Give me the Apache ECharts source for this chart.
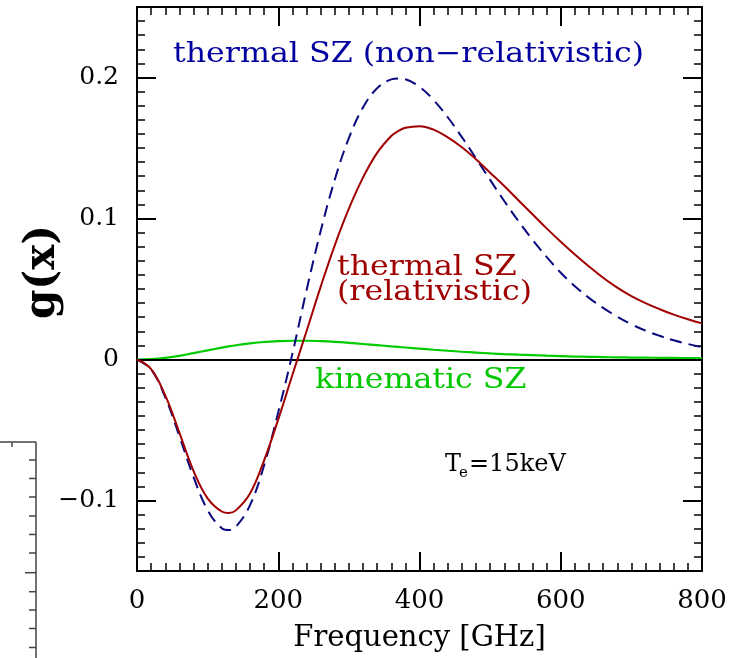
<!DOCTYPE html>
<html>
<head>
<meta charset="utf-8">
<script src="https://cdn.jsdelivr.net/npm/echarts@6/dist/echarts.min.js"></script>
<style>
html,body{margin:0;padding:0;background:#fff;}
#chart{width:741px;height:658px;}
</style>
</head>
<body>
<div id="chart"></div>
<script>
// Frequency grid (GHz)
const freq = [0,20,40,60,80,100,120,130,140,160,180,200,220,240,260,280,300,320,340,360,370,380,400,
  420,440,460,480,500,520,540,560,580,600,620,640,660,680,700,720,740,760,780,800];
// thermal SZ (non-relativistic), dashed navy
const tszNonRel = [0,-0.0071,-0.0268,-0.0544,-0.0833,-0.1068,-0.1197,-0.1210,-0.1187,-0.1033,-0.0750,-0.0374,
  0.0040,0.0490,0.0910,0.1275,0.1570,0.1787,0.1924,0.1987,0.1993,0.1988,0.1934,
  0.1840,0.1718,0.1577,0.1427,0.1274,0.1124,0.0982,0.0849,0.0728,0.0615,
  0.0520,0.0437,0.0366,0.0304,0.0250,0.0205,0.0168,0.0136,0.0110,0.0087];
// thermal SZ (relativistic, kTe = 15 keV), solid dark red
const tszRel = [0,-0.0068,-0.0255,-0.0518,-0.0790,-0.0985,-0.1078,-0.1088,-0.1070,-0.0950,-0.0715,-0.0425,
  -0.0110,0.0200,0.0515,0.0810,0.1070,0.1290,0.1465,0.1585,0.1620,0.1643,0.1655,
  0.1630,0.1575,0.1505,0.1420,0.1325,0.1230,0.1130,0.1030,0.0930,0.0835,
  0.0745,0.0660,0.0580,0.0510,0.0450,0.0400,0.0357,0.0318,0.0285,0.0256];
// kinematic SZ, solid green
const kinSZ = [0,0.0003,0.0012,0.0026,0.0045,0.0065,0.0084,0.0093,0.0101,0.0114,0.0124,0.0130,
  0.0133,0.0133,0.0130,0.0125,0.0118,0.0110,0.0102,0.0093,0.0089,0.0085,0.0077,
  0.0069,0.0062,0.0055,0.0049,0.0043,0.0038,0.0034,0.0031,0.0027,0.0024,
  0.0021,0.0019,0.0017,0.0015,0.0014,0.0013,0.0012,0.0011,0.0010,0.0009];
// axis ticks / labels
const xMin = 0, xMax = 800, xStep = 200;
const yMin = -0.15, yMax = 0.25;
const yMajor = [-0.1, 0, 0.1, 0.2];

const pair = (xs, ys) => xs.map((x, i) => [x, ys[i]]);
const FONT = '"DejaVu Serif", serif';

const chart = echarts.init(document.getElementById('chart'), null, {renderer: 'canvas'});

function xAxisDef(pos, labels) {
  return {
    type: 'value', position: pos, min: xMin, max: xMax, interval: xStep,
    axisLine: {show: true, onZero: false, lineStyle: {color: '#000', width: 2}},
    axisTick: {show: true, inside: true, length: 19, lineStyle: {color: '#000', width: 2}},
    minorTick: {show: true, splitNumber: 10, length: 8, lineStyle: {color: '#000', width: 1.5}},
    axisLabel: {show: labels, color: '#000', fontFamily: FONT, fontSize: 26, margin: 17},
    splitLine: {show: false}, minorSplitLine: {show: false},
    name: labels ? 'Frequency [GHz]' : '', nameLocation: 'middle', nameGap: 53,
    nameTextStyle: {color: '#000', fontFamily: FONT, fontSize: 29}
  };
}
function yMinorAxis(pos) {
  return {
    type: 'value', position: pos, min: yMin, max: yMax, interval: 0.01,
    axisLine: {show: true, onZero: false, lineStyle: {color: '#000', width: 2}},
    axisTick: {show: true, inside: true, length: 8, lineStyle: {color: '#000', width: 1.5}},
    axisLabel: {show: false}, splitLine: {show: false}
  };
}
function yMajorAxis(pos, labels) {
  return {
    type: 'value', position: pos, min: yMin, max: yMax,
    axisLine: {show: false, onZero: false},
    axisTick: {show: true, inside: true, length: 19, customValues: yMajor, lineStyle: {color: '#000', width: 2}},
    axisLabel: {show: labels, customValues: yMajor, color: '#000', fontFamily: FONT, fontSize: 25, margin: 18,
      formatter: v => Math.abs(v) < 1e-9 ? '0' : (v < 0 ? '\u2212' + Math.abs(v).toFixed(1) : v.toFixed(1))},
    splitLine: {show: false}
  };
}

const SX = 1.13;
function label(x, y, text, color, size) {
  return {type: 'text', x: x, y: y, scaleX: SX,
    style: {text: text, font: size + 'px ' + FONT, fill: color, align: 'left', verticalAlign: 'middle'}};
}

const option = {
  backgroundColor: '#fff',
  animation: false,
  grid: {left: 137, top: 7, right: 39, bottom: 86, containLabel: false},
  xAxis: [xAxisDef('bottom', true), xAxisDef('top', false)],
  yAxis: [yMinorAxis('left'), yMajorAxis('left', true), yMinorAxis('right'), yMajorAxis('right', false)],
  series: [
    {
      name: 'kinematic SZ', type: 'line', xAxisIndex: 0, yAxisIndex: 0,
      data: pair(freq, kinSZ), showSymbol: false, smooth: 0.4,
      lineStyle: {color: '#00cc00', width: 2.2}, z: 3,
      markLine: {
        silent: true, symbol: ['none', 'none'], label: {show: false},
        lineStyle: {color: '#000', width: 2, type: 'solid'},
        data: [{yAxis: 0}], z: 4
      }
    },
    {
      name: 'thermal SZ (non-relativistic)', type: 'line', xAxisIndex: 0, yAxisIndex: 0,
      data: pair(freq, tszNonRel), showSymbol: false, smooth: 0.4,
      lineStyle: {color: '#0a0a80', width: 2, type: [12, 7]}, z: 5
    },
    {
      name: 'thermal SZ (relativistic)', type: 'line', xAxisIndex: 0, yAxisIndex: 0,
      data: pair(freq, tszRel), showSymbol: false, smooth: 0.4,
      lineStyle: {color: '#a00000', width: 2}, z: 6
    }
  ],
  graphic: [
    {type: 'text', x: 43, y: 272, rotation: Math.PI / 2,
      style: {text: 'g(x)', font: 'bold 42px ' + FONT, fill: '#000', align: 'center', verticalAlign: 'middle'}},
    label(173, 55, 'thermal SZ (non\u2212relativistic)', '#0000a0', 28),
    label(337, 268, 'thermal SZ', '#a00000', 28),
    label(337, 293, '(relativistic)', '#a00000', 28),
    label(315, 381, 'kinematic SZ', '#00c800', 28),
    {type: 'text', x: 445, y: 465, style: {text: 'T', font: '24px ' + FONT, fill: '#000', align: 'left', verticalAlign: 'middle'}},
    {type: 'text', x: 459, y: 473, style: {text: 'e', font: '15px ' + FONT, fill: '#000', align: 'left', verticalAlign: 'middle'}},
    {type: 'text', x: 469, y: 465, style: {text: '=15keV', font: '24px ' + FONT, fill: '#000', align: 'left', verticalAlign: 'middle'}},
    // fragment of a neighbouring panel at the lower left
    {type: 'group', children: [
      {type: 'line', shape: {x1: 0, y1: 442, x2: 36, y2: 442}, style: {stroke: '#444', lineWidth: 1.5}},
      {type: 'line', shape: {x1: 36, y1: 442, x2: 36, y2: 658}, style: {stroke: '#444', lineWidth: 1.5}},
      {type: 'line', shape: {x1: 12, y1: 442, x2: 12, y2: 447}, style: {stroke: '#444', lineWidth: 1.5}}
    ].concat([460, 478.5, 497, 516, 534.5, 553, 591.7, 610, 628.5, 647.5].map(y => (
      {type: 'line', shape: {x1: 29, y1: y, x2: 36, y2: y}, style: {stroke: '#444', lineWidth: 1.5}}
    ))).concat([
      {type: 'line', shape: {x1: 25, y1: 572.7, x2: 36, y2: 572.7}, style: {stroke: '#444', lineWidth: 1.5}}
    ])}
  ]
};
chart.setOption(option);
</script>
</body>
</html>
